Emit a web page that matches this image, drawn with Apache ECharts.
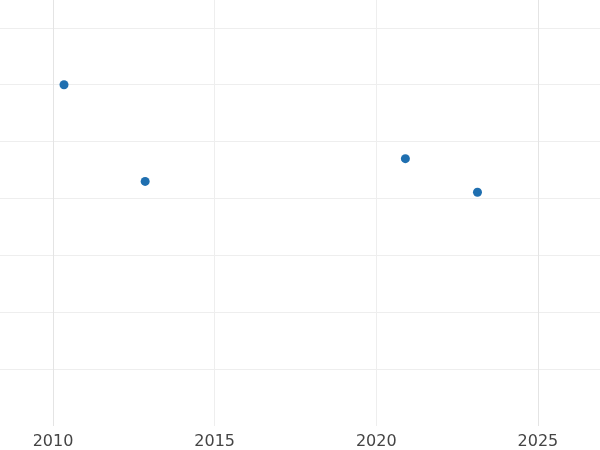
<!DOCTYPE html>
<html>
<head>
<meta charset="utf-8">
<script src="https://cdn.jsdelivr.net/npm/echarts@6/dist/echarts.min.js"></script>
<style>html,body{margin:0;padding:0;}#chart{width:600px;height:450px;}</style>
</head>
<body>
<div id="chart"></div>
<script>
const years = [2010.34, 2012.85, 2020.90, 2023.13];
const values = [6.0, 4.3, 4.7, 4.11];

const chart = echarts.init(document.getElementById("chart"));
chart.setOption({
    animation: false,
    grid: { left: 0, right: 0, top: 0, bottom: 23 },
    xAxis: {
        type: "value",
        min: 2008.36,
        max: 2026.92,
        splitNumber: 4,
        axisLine: { show: false },
        axisTick: { show: false },
        axisLabel: {
            color: "#444",
            fontSize: 16,
            fontFamily: "DejaVu Sans",
            margin: 8,
            showMinLabel: false,
            showMaxLabel: false,
            formatter: v => String(v)
        },
        splitLine: { lineStyle: { color: ["transparent", "#e4e4e4", "#eeeeee", "#eeeeee", "#e4e4e4", "transparent"] } }
    },
    yAxis: {
        type: "value",
        min: 0,
        max: 7.49,
        interval: 1,
        axisLine: { show: false },
        axisTick: { show: false },
        axisLabel: { show: false },
        splitLine: {
            lineStyle: { color: ["transparent", "#eeeeee", "#eeeeee", "#eeeeee", "#eeeeee", "#eeeeee", "#eeeeee", "#eeeeee"] }
        }
    },
    series: [{
        type: "scatter",
        symbolSize: 9,
        itemStyle: { color: "#1f6fb0", opacity: 1 },
        data: years.map((y, i) => [y, values[i]])
    }]
});
</script>
</body>
</html>
